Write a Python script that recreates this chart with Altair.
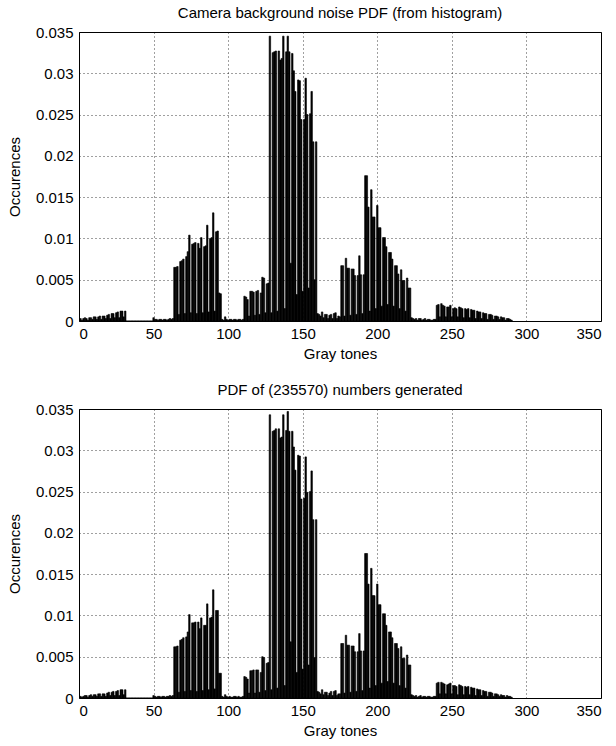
import altair as alt
import pandas as pd

# Gray-tone bins shown on the x axis (one bar per tone)
tones = list(range(291))

x_ticks = [0, 50, 100, 150, 200, 250, 300, 350]
y_ticks = [0, 0.005, 0.01, 0.015, 0.02, 0.025, 0.03, 0.035]

# PDF estimated from the camera background-noise histogram
camera_pdf = [
    0.0002, 0.0003, 0.0001, 0.0003, 0.0004, 0.0003, 0.0001, 0.0004, 0.0004, 0.0002,  # 0
    0.0005, 0.0005, 0.0002, 0.0005, 0.0006, 0.0002, 0.0006, 0.0006, 0.0003, 0.0007,  # 10
    0.0008, 0.0003, 0.0009, 0.0009, 0.0004, 0.0010, 0.0011, 0.0004, 0.0012, 0.0012,  # 20
    0.0005, 0.0012, 0, 0, 0, 0, 0, 0, 0, 0,                                          # 30
    0, 0, 0, 0, 0, 0, 0, 0, 0, 0,                                                    # 40
    0.0004, 0.0002, 0.0002, 0.0001, 0.0002, 0.0002, 0.0001, 0.0002, 0.0002, 0.0001,  # 50
    0.0002, 0.0003, 0.0002, 0.0003, 0.0065, 0.0065, 0.0066, 0.0008, 0.0072, 0.0073,  # 60
    0.0075, 0.0009, 0.0078, 0.0084, 0.0104, 0.0010, 0.0093, 0.0094, 0.0095, 0.0009,  # 70
    0.0094, 0.0088, 0.0101, 0.0010, 0.0090, 0.0091, 0.0116, 0.0011, 0.0100, 0.0101,  # 80
    0.0131, 0.0012, 0.0108, 0.0109, 0.0034, 0.0033, 0.0002, 0.0001, 0.0005, 0.0002,  # 90
    0.0001, 0.0002, 0.0002, 0.0001, 0.0002, 0.0002, 0.0001, 0.0002, 0.0002, 0.0001,  # 100
    0.0002, 0.0030, 0.0029, 0.0026, 0.0006, 0.0036, 0.0036, 0.0035, 0.0007, 0.0036,  # 110
    0.0037, 0.0008, 0.0034, 0.0053, 0.0052, 0.0010, 0.0045, 0.0046, 0.0345, 0.0010,  # 120
    0.0325, 0.0326, 0.0327, 0.0012, 0.0327, 0.0316, 0.0318, 0.0345, 0.0015, 0.0326,  # 130
    0.0345, 0.0326, 0.0070, 0.0324, 0.0303, 0.0278, 0.0032, 0.0292, 0.0291, 0.0244,  # 140
    0.0036, 0.0244, 0.0294, 0.0250, 0.0040, 0.0251, 0.0278, 0.0217, 0.0050, 0.0217,  # 150
    0.0009, 0.0008, 0.0006, 0.0011, 0.0004, 0.0008, 0.0008, 0.0003, 0.0007, 0.0008,  # 160
    0.0003, 0.0009, 0.0010, 0.0003, 0.0006, 0.0005, 0.0067, 0.0067, 0.0006, 0.0076,  # 170
    0.0064, 0.0064, 0.0007, 0.0063, 0.0063, 0.0055, 0.0008, 0.0055, 0.0079, 0.0056,  # 180
    0.0009, 0.0056, 0.0176, 0.0176, 0.0138, 0.0012, 0.0159, 0.0126, 0.0126, 0.0015,  # 190
    0.0140, 0.0113, 0.0113, 0.0018, 0.0101, 0.0101, 0.0090, 0.0020, 0.0083, 0.0083,  # 200
    0.0075, 0.0018, 0.0067, 0.0067, 0.0057, 0.0015, 0.0062, 0.0049, 0.0049, 0.0012,  # 210
    0.0052, 0.0040, 0.0040, 0.0004, 0.0003, 0.0002, 0.0003, 0.0001, 0.0003, 0.0003,  # 220
    0.0001, 0.0002, 0.0003, 0.0001, 0.0002, 0.0002, 0.0001, 0.0001, 0.0002, 0.0002,  # 230
    0.0019, 0.0020, 0.0005, 0.0021, 0.0019, 0.0018, 0.0005, 0.0017, 0.0017, 0.0019,  # 240
    0.0005, 0.0015, 0.0016, 0.0015, 0.0005, 0.0017, 0.0016, 0.0015, 0.0004, 0.0015,  # 250
    0.0014, 0.0015, 0.0004, 0.0014, 0.0013, 0.0013, 0.0003, 0.0012, 0.0011, 0.0011,  # 260
    0.0003, 0.0010, 0.0009, 0.0009, 0.0002, 0.0008, 0.0008, 0.0007, 0.0002, 0.0006,  # 270
    0.0006, 0.0005, 0.0002, 0.0005, 0.0004, 0.0004, 0.0001, 0.0003, 0.0003, 0.0002,  # 280
    0.0001,                                                                          # 290
]

# PDF of the 235570 numbers drawn from that distribution
generated_pdf = [
    0.0002, 0.0002, 0.0001, 0.0002, 0.0003, 0.0003, 0.0001, 0.0003, 0.0004, 0.0002,  # 0
    0.0004, 0.0004, 0.0002, 0.0005, 0.0005, 0.0002, 0.0005, 0.0005, 0.0002, 0.0006,  # 10
    0.0007, 0.0003, 0.0007, 0.0008, 0.0003, 0.0008, 0.0009, 0.0003, 0.0010, 0.0010,  # 20
    0.0004, 0.0010, 0, 0, 0, 0, 0, 0, 0, 0,                                          # 30
    0, 0, 0, 0, 0, 0, 0, 0, 0, 0,                                                    # 40
    0.0003, 0.0002, 0.0001, 0.0002, 0.0002, 0.0001, 0.0002, 0.0002, 0.0001, 0.0002,  # 50
    0.0002, 0.0003, 0.0002, 0.0003, 0.0062, 0.0062, 0.0063, 0.0007, 0.0070, 0.0071,  # 60
    0.0073, 0.0008, 0.0074, 0.0080, 0.0101, 0.0009, 0.0091, 0.0091, 0.0092, 0.0008,  # 70
    0.0092, 0.0084, 0.0097, 0.0009, 0.0088, 0.0088, 0.0114, 0.0010, 0.0097, 0.0098,  # 80
    0.0131, 0.0011, 0.0106, 0.0106, 0.0030, 0.0030, 0.0002, 0.0001, 0.0004, 0.0002,  # 90
    0.0001, 0.0002, 0.0001, 0.0001, 0.0002, 0.0002, 0.0001, 0.0002, 0.0001, 0.0001,  # 100
    0.0002, 0.0026, 0.0025, 0.0023, 0.0006, 0.0033, 0.0033, 0.0034, 0.0006, 0.0034,  # 110
    0.0034, 0.0007, 0.0031, 0.0050, 0.0049, 0.0009, 0.0042, 0.0043, 0.0343, 0.0010,  # 120
    0.0323, 0.0324, 0.0326, 0.0012, 0.0326, 0.0315, 0.0316, 0.0343, 0.0015, 0.0324,  # 130
    0.0347, 0.0323, 0.0068, 0.0323, 0.0304, 0.0276, 0.0031, 0.0294, 0.0293, 0.0241,  # 140
    0.0035, 0.0242, 0.0292, 0.0249, 0.0040, 0.0250, 0.0275, 0.0216, 0.0049, 0.0216,  # 150
    0.0008, 0.0007, 0.0005, 0.0010, 0.0004, 0.0007, 0.0007, 0.0003, 0.0006, 0.0008,  # 160
    0.0003, 0.0008, 0.0009, 0.0003, 0.0005, 0.0005, 0.0066, 0.0066, 0.0006, 0.0076,  # 170
    0.0064, 0.0064, 0.0007, 0.0063, 0.0063, 0.0056, 0.0008, 0.0056, 0.0078, 0.0057,  # 180
    0.0009, 0.0057, 0.0175, 0.0175, 0.0138, 0.0012, 0.0157, 0.0124, 0.0124, 0.0015,  # 190
    0.0138, 0.0113, 0.0113, 0.0018, 0.0102, 0.0102, 0.0088, 0.0020, 0.0080, 0.0080,  # 200
    0.0073, 0.0018, 0.0066, 0.0066, 0.0060, 0.0015, 0.0062, 0.0048, 0.0048, 0.0012,  # 210
    0.0052, 0.0040, 0.0040, 0.0004, 0.0003, 0.0002, 0.0003, 0.0001, 0.0002, 0.0003,  # 220
    0.0001, 0.0002, 0.0002, 0.0001, 0.0002, 0.0002, 0.0001, 0.0001, 0.0002, 0.0002,  # 230
    0.0018, 0.0019, 0.0005, 0.0019, 0.0018, 0.0017, 0.0005, 0.0016, 0.0017, 0.0018,  # 240
    0.0005, 0.0015, 0.0015, 0.0014, 0.0004, 0.0016, 0.0015, 0.0014, 0.0004, 0.0014,  # 250
    0.0013, 0.0014, 0.0004, 0.0013, 0.0012, 0.0012, 0.0003, 0.0011, 0.0010, 0.0010,  # 260
    0.0003, 0.0009, 0.0008, 0.0008, 0.0002, 0.0007, 0.0007, 0.0006, 0.0002, 0.0005,  # 270
    0.0005, 0.0004, 0.0002, 0.0004, 0.0003, 0.0003, 0.0001, 0.0003, 0.0002, 0.0002,  # 280
    0.0001,                                                                          # 290
]

FONT = "Liberation Sans"
TEXT_SIZE = 15


def pdf_panel(values, title):
    frame = pd.DataFrame({"tone": tones, "pdf": values})
    return (
        alt.Chart(frame, title=alt.Title(title, offset=4))
        .transform_calculate(left="datum.tone - 0.5", right="datum.tone + 0.5")
        .mark_bar(color="black", stroke="black", strokeWidth=0.6, clip=True)
        .encode(
            x=alt.X(
                "left:Q",
                scale=alt.Scale(domain=[0, 350], nice=False, zero=False),
                axis=alt.Axis(values=x_ticks, format="d", title="Gray tones"),
            ),
            x2="right:Q",
            y=alt.Y(
                "pdf:Q",
                scale=alt.Scale(domain=[0, 0.035], nice=False),
                axis=alt.Axis(values=y_ticks, format="~g", title="Occurences"),
            ),
            y2=alt.datum(0),
        )
        .properties(width=522, height=289)
    )


top = pdf_panel(camera_pdf, "Camera background noise PDF (from histogram)")
bottom = pdf_panel(generated_pdf, "PDF of (235570) numbers generated")

chart = (
    alt.vconcat(top, bottom, spacing=20)
    .properties(padding={"left": 6, "top": 5, "right": 10, "bottom": 6}, background="white")
    .configure_view(stroke="black", strokeWidth=1)
    .configure_axis(
        labelFont=FONT,
        labelFontSize=TEXT_SIZE,
        labelColor="black",
        titleFont=FONT,
        titleFontSize=TEXT_SIZE,
        titleFontWeight="normal",
        titleColor="black",
        ticks=False,
        domain=False,
        grid=True,
        gridColor="black",
        gridDash=[1, 3],
        gridOpacity=0.75,
        gridWidth=1,
    )
    .configure_axisX(labelPadding=5, titlePadding=5)
    .configure_axisY(labelPadding=6, titlePadding=13)
    .configure_title(font=FONT, fontSize=TEXT_SIZE, fontWeight="normal", color="black", anchor="middle")
)

chart.save("out.html", embed_options={"renderer": "svg", "actions": False})
